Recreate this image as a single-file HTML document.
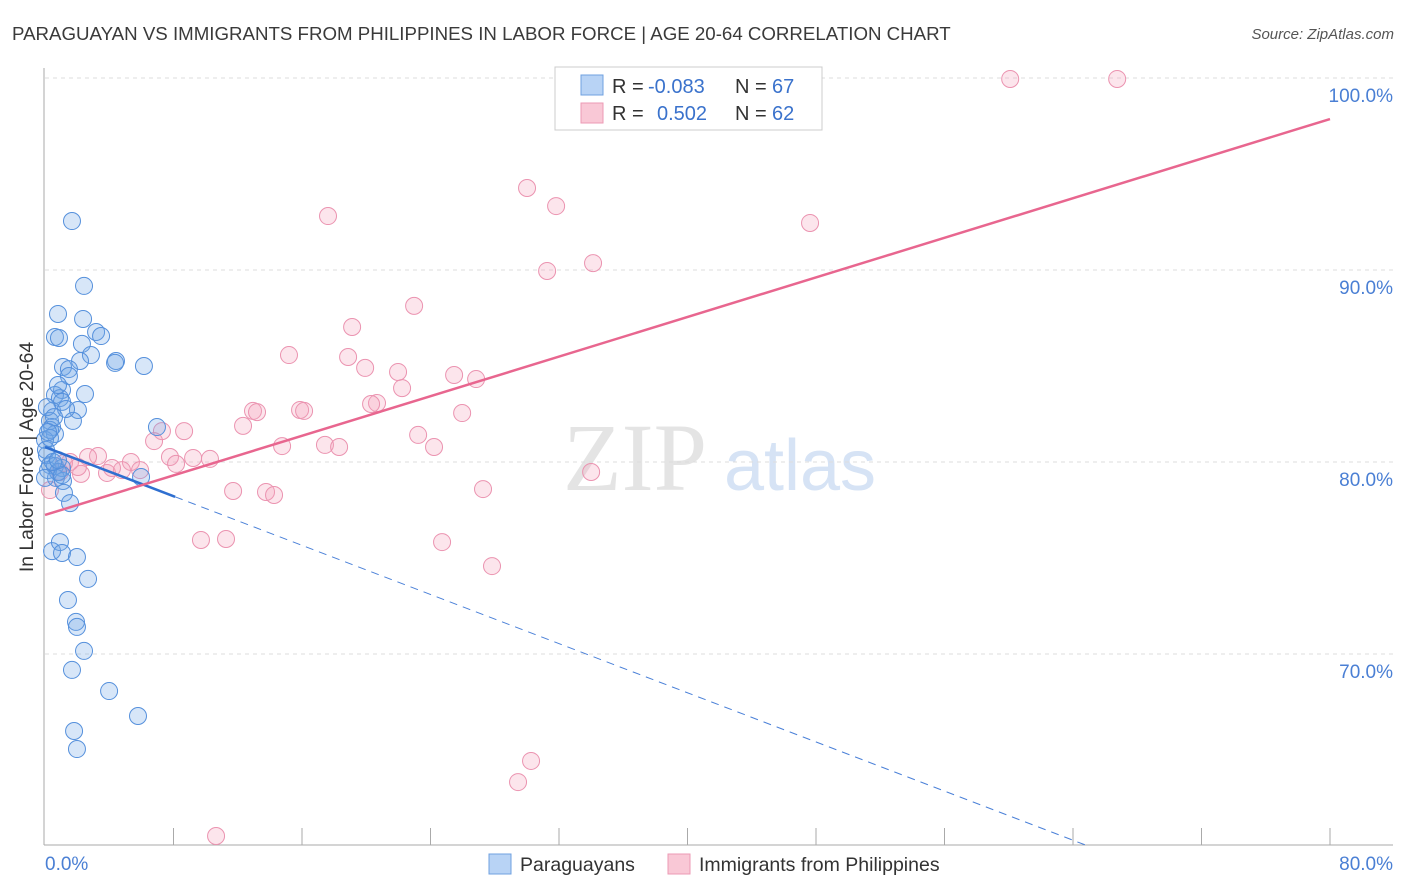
<!DOCTYPE html>
<html><head><meta charset="utf-8"><style>
body{margin:0;background:#fff;font-family:"Liberation Sans",sans-serif;}
svg{display:block}
</style></head><body>
<svg id="chart" width="1406" height="892" xmlns="http://www.w3.org/2000/svg">
<text x="12" y="40" font-size="18.7" fill="#3a3a3a">PARAGUAYAN VS IMMIGRANTS FROM PHILIPPINES IN LABOR FORCE | AGE 20-64 CORRELATION CHART</text>
<text x="1394" y="39" font-size="15" fill="#555" font-style="italic" text-anchor="end">Source: ZipAtlas.com</text>
<g>
<text x="635" y="490" font-size="96" fill="#e4e4e4" font-family="Liberation Serif,serif" text-anchor="middle">ZIP</text>
<text x="800" y="490" font-size="72" fill="#d6e3f5" text-anchor="middle">atlas</text>
</g>
<g id="grid"></g>
<g id="axes"></g>
<g id="marks"></g>
<text x="33" y="457" font-size="19.4" fill="#333" text-anchor="middle" transform="rotate(-90 33 457)">In Labor Force | Age 20-64</text>
<g>
<rect x="555" y="67" width="267" height="63" fill="#fff" stroke="#ccc"/>
<rect x="581" y="75" width="22" height="20" fill="#b8d3f5" stroke="#6fa0e0"/>
<rect x="581" y="103" width="22" height="20" fill="#f9c8d6" stroke="#ec9ab4"/>
<text y="93" font-size="20" fill="#333"><tspan x="612">R =</tspan><tspan x="648" fill="#3a72cc">-0.083</tspan><tspan x="735">N =</tspan><tspan x="772" fill="#3a72cc">67</tspan></text>
<text y="120" font-size="20" fill="#333"><tspan x="612">R =</tspan><tspan x="657" fill="#3a72cc">0.502</tspan><tspan x="735">N =</tspan><tspan x="772" fill="#3a72cc">62</tspan></text>
</g>
<g>
<rect x="489" y="854" width="22" height="20" fill="#b8d3f5" stroke="#6fa0e0"/>
<text x="520" y="871" font-size="19.5" fill="#333">Paraguayans</text>
<rect x="668" y="854" width="22" height="20" fill="#f9c8d6" stroke="#ec9ab4"/>
<text x="699" y="871" font-size="19.5" fill="#333">Immigrants from Philippines</text>
</g>
</svg>
<script>
const blueX=[1.68,2.43,0.81,2.37,0.62,0.87,3.18,3.49,2.3,2.86,2.18,4.42,4.36,6.16,1.12,1.49,1.49,1.06,0.62,0.93,2.49,2.05,0.44,1.06,1.74,0.31,0.44,0.62,0,0.31,6.97,0.12,0.31,0.62,1.06,0.68,1.12,1.18,1.56,5.98,0.44,0.93,1.06,1.99,2.68,1.43,1.93,1.99,2.43,1.68,3.99,5.79,1.81,1.99,0.19,0.81,0.06,0,0.31,0.81,0.12,1.31,0.56,0.19,1.06,0.5,0.81];
const blueY=[92.55,89.17,87.71,87.45,86.51,86.46,86.77,86.56,86.15,85.57,85.26,85.26,85.16,85.0,84.95,84.84,84.48,83.75,83.49,83.33,83.54,82.71,82.66,83.13,82.14,82.14,81.82,81.46,81.15,81.67,81.82,80.36,79.84,79.79,79.69,79.17,79.01,78.39,77.86,79.22,75.36,75.83,75.26,75.05,73.91,72.81,71.67,71.41,70.16,69.17,68.07,66.77,65.99,65.05,79.58,79.48,80.63,79.17,81.25,84.01,82.86,82.76,82.34,81.56,79.32,80,80.1];
const pinkX=[60.09,66.75,30.01,31.82,17.62,47.63,31.26,34.12,22.98,19.12,15.19,18.87,19.93,21.98,25.47,26.84,22.23,20.67,20.3,12.95,13.2,15.88,16.13,25.97,12.33,8.66,7.28,23.23,6.79,14.76,17.43,18.31,24.22,3.3,2.68,7.78,9.22,10.27,5.35,8.16,5.92,4.79,3.86,2.24,1.56,0.93,34.0,11.71,13.76,14.26,27.27,9.71,11.27,24.72,27.83,30.26,29.45,10.65,0.31,2.05,4.17,1.18];
const pinkY=[99.95,99.95,94.27,93.33,92.81,92.45,89.95,90.36,88.13,87.03,85.57,85.47,84.9,84.69,84.53,84.32,83.85,83.07,83.02,82.66,82.6,82.71,82.66,82.55,81.88,81.61,81.61,81.41,81.09,80.83,80.89,80.78,80.78,80.31,80.26,80.26,80.21,80.16,80,79.9,79.58,79.58,79.43,79.38,80,79.48,79.48,78.49,78.44,78.28,78.59,75.94,75.99,75.83,74.58,64.43,63.33,60.52,78.54,79.74,79.69,79.95];
const yTicks=[100,90,80,70];
const yTickLabels=["100.0%","90.0%","80.0%","70.0%"];
const xTicks=[8,16,24,32,40,48,56,64,72,80];
const blueTrend=[80.78,-0.32];
const pinkTrend=[77.24,0.2578];
const NS="http://www.w3.org/2000/svg";
const X=v=>45+v*1285/80;
const Y=v=>462-(v-80)*19.2;
function mk(tag,attrs,parent){const e=document.createElementNS(NS,tag);for(const k in attrs)e.setAttribute(k,attrs[k]);parent.appendChild(e);return e;}
const grid=document.getElementById('grid'),axes=document.getElementById('axes'),marks=document.getElementById('marks');
yTicks.forEach((t,i)=>{
 const l=mk('line',{x1:45,x2:1393,y1:Y(t),y2:Y(t),stroke:'#ddd','stroke-dasharray':'4 4'},grid);
 
 
 const tx=mk('text',{x:1393,y:Y(t)+24,'font-size':19,fill:'#4a7fd4','text-anchor':'end'},axes);
 tx.textContent=yTickLabels[i];
 
 
});
let a=mk('line',{x1:44,x2:44,y1:68,y2:845,stroke:'#aaa'},axes);


a=mk('line',{x1:44,x2:1393,y1:845,y2:845,stroke:'#aaa'},axes);


xTicks.forEach(t=>{
 const l=mk('line',{x1:X(t),x2:X(t),y1:828,y2:845,stroke:'#aaa'},axes);
 
 
});
let xl=mk('text',{x:45,y:870,'font-size':19,fill:'#4a7fd4'},axes);xl.textContent='0.0%';


xl=mk('text',{x:1393,y:870,'font-size':19,fill:'#4a7fd4','text-anchor':'end'},axes);xl.textContent='80.0%';


pinkX.forEach((x,i)=>{
 const c=mk('circle',{cx:X(x),cy:Y(pinkY[i]),r:8.5,fill:'rgba(244,160,188,0.28)',stroke:'#eb93b0','stroke-width':1},marks);
 
 
});
blueX.forEach((x,i)=>{
 const c=mk('circle',{cx:X(x),cy:Y(blueY[i]),r:8.5,fill:'rgba(110,165,230,0.28)',stroke:'#5590dc','stroke-width':1},marks);
 
 
});
const bEnd=(60.05-blueTrend[0])/blueTrend[1];
let t=mk('line',{x1:X(0),y1:Y(blueTrend[0]),x2:X(8.1),y2:Y(blueTrend[0]+blueTrend[1]*8.1),stroke:'#2f6fd0','stroke-width':2.5},marks);


t=mk('line',{x1:X(8.1),y1:Y(blueTrend[0]+blueTrend[1]*8.1),x2:X(bEnd),y2:Y(60.05),stroke:'#4a80d8','stroke-width':1,'stroke-dasharray':'8 6'},marks);


t=mk('line',{x1:X(0),y1:Y(pinkTrend[0]),x2:X(80),y2:Y(pinkTrend[0]+pinkTrend[1]*80),stroke:'#e8668f','stroke-width':2.5},marks);


</script>
</body></html>
